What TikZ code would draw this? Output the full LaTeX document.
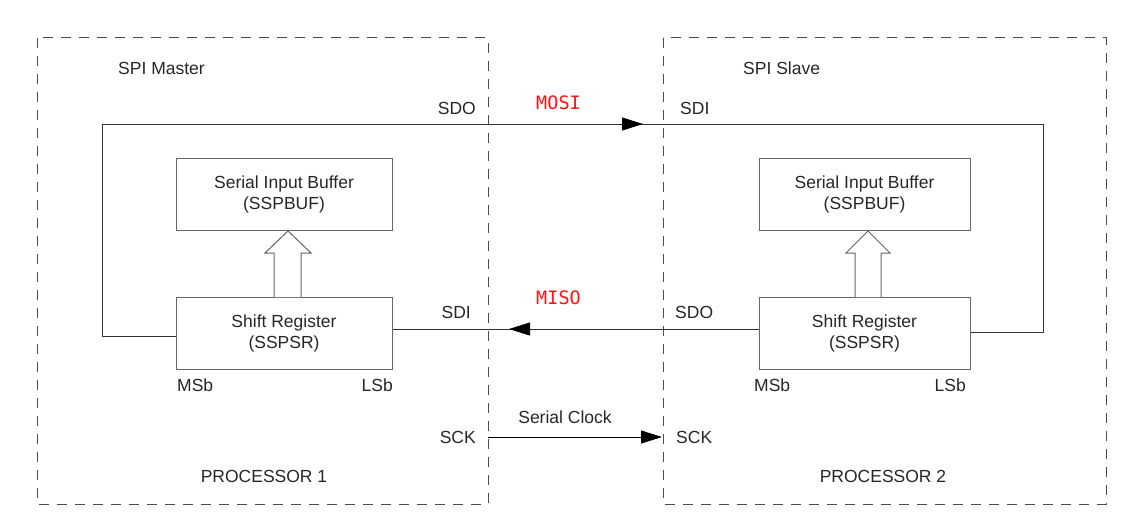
\documentclass[tikz,border=0pt]{standalone}
\usepackage{fontspec}
\setmainfont{Liberation Sans}
\newfontfamily\sigfont{DejaVu Sans Mono}
\usetikzlibrary{arrows.meta}
\definecolor{sigred}{RGB}{255,20,20}
\tikzset{
  x=1pt, y=-1pt,
  every node/.style={font=\fontsize{17.5}{21}\selectfont, inner sep=0pt, text=black!85},
  procbox/.style={draw=black!70, dashed, dash pattern=on 10pt off 8pt, line width=1pt},
  regbox/.style={draw=black!60, line width=1pt, minimum height=72pt, align=center},
  wire/.style={draw=black!80, line width=1pt},
  tip/.style={-{Triangle[length=21pt,width=13pt]}, draw=black, line width=1pt},
  siglabel/.style={font=\sigfont\fontsize{18.5}{20}\selectfont, text=sigred},
  hollow/.style={draw=black!60, line width=1pt, fill=white}
}
\begin{document}
\begin{tikzpicture}
\useasboundingbox (0,0) rectangle (1131,516);

% processor outlines
\draw[procbox] (37,38) rectangle (488,504);
\draw[procbox] (663,38) rectangle (1106,504);

% registers
\node[regbox, minimum width=216pt] (buf1) at (284,194) {Serial Input Buffer\\(SSPBUF)};
\node[regbox, minimum width=216pt] (sr1) at (284,333) {Shift Register\\(SSPSR)};
\node[regbox, minimum width=211pt] (buf2) at (864.5,194) {Serial Input Buffer\\(SSPBUF)};
\node[regbox, minimum width=211pt] (sr2) at (864.5,333) {Shift Register\\(SSPSR)};

% hollow transfer arrows from shift register up to buffer
\draw[hollow] (274,297) -- (274,253) -- (265,253) -- (288,231) -- (311,253) -- (301,253) -- (301,297);
\draw[hollow] (855,297) -- (855,253) -- (846,253) -- (868,231) -- (890,253) -- (881,253) -- (881,297);

% MOSI loop: master shift register out, slave shift register in
\coordinate (mloop) at (102,124);
\coordinate (sloop) at (1043,124);
\coordinate (mositail) at (620,124);
\coordinate (mositip) at (643,124);
\draw[wire] ([yshift=-3pt]sr1.west) -| (mloop) -- (sloop) |- ([yshift=1pt]sr2.east);
\draw[tip] (mositail) -- (mositip);

% MISO line
\coordinate (misotail) at (531,329);
\coordinate (misotip) at (509,329);
\draw[wire] ([yshift=4pt]sr2.west) -- ([yshift=4pt]sr1.east);
\draw[tip] (misotail) -- (misotip);

% serial clock
\coordinate (sckout) at (488,437);
\coordinate (sckin) at (662,437);
\draw[wire, tip] (sckout) -- (sckin);

% labels
\node[anchor=west] (mtitle) at (118,68) {SPI Master};
\node[anchor=west] (stitle) at (743,68) {SPI Slave};
\node[anchor=east] (sdo1) at (476,108) {SDO};
\node[anchor=west] (sdi2) at (680,108) {SDI};
\node[siglabel] (mosi) at (558.5,103) {MOSI};
\node[siglabel] (miso) at (558.5,298) {MISO};
\node[anchor=east] (sdi1) at (471,312) {SDI};
\node[anchor=west] (sdo2) at (675,312) {SDO};
\node[anchor=west] (msb1) at (177,385) {MSb};
\node[anchor=east] (lsb1) at (393,385) {LSb};
\node[anchor=west] (msb2) at (754,385) {MSb};
\node[anchor=east] (lsb2) at (966,385) {LSb};
\node (clk) at (565,417) {Serial Clock};
\node[anchor=east] (sck1) at (476,437) {SCK};
\node[anchor=west] (sck2) at (676,437) {SCK};
\node (p1) at (264,476) {PROCESSOR 1};
\node (p2) at (883,476) {PROCESSOR 2};
\end{tikzpicture}
\end{document}
